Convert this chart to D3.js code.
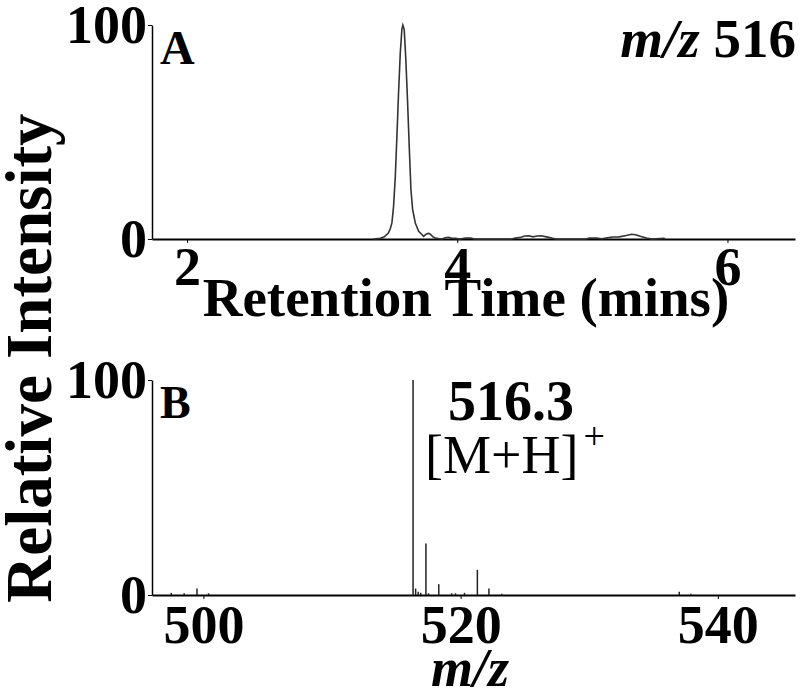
<!DOCTYPE html>
<head>
    <meta charset="utf-8">
    <script src="https://d3js.org/d3.v7.min.js"></script>
    <style>
        body { margin: 0; background: #fff; }
        svg { display: block; }
        text { font-family: "Liberation Serif", "Times New Roman", serif; fill: #000; }
    </style>
</head>
<body>
    <script>
        // panel A: extracted ion chromatogram (retention time in mins, relative intensity)
        const rtTime = [3.38, 3.43, 3.46, 3.49, 3.505, 3.516, 3.528, 3.541, 3.553, 3.565, 3.578, 3.59, 3.597,
            3.607, 3.619, 3.632, 3.645, 3.657, 3.669, 3.689, 3.714, 3.74, 3.751, 3.765, 3.775, 3.79, 3.80,
            3.82, 3.838, 3.86, 3.887, 3.91, 3.936, 3.96, 3.986, 4.02, 4.06, 4.10, 4.13, 4.25, 4.40, 4.43,
            4.47, 4.50, 4.53, 4.56, 4.59, 4.62, 4.66, 4.70, 4.73, 4.95, 4.98, 5.03, 5.07, 5.10, 5.15, 5.20,
            5.25, 5.29, 5.32, 5.36, 5.40, 5.44, 5.53, 5.54];
        const rtIntensity = [0, 0.3, 1.0, 2.8, 5, 7.5, 15, 29, 48, 68, 87, 98, 100,
            98, 84, 64, 42, 23, 14, 7.5, 3.6, 2.0, 1.2, 2.0, 2.5, 2.6, 2.3,
            1.0, 0.5, 0.2, 0, 0.6, 0.8, 0.3, 0.3, 0, 0.5, 0.4, 0, 0, 0, 0.4,
            0.8, 1.4, 1.5, 1.0, 1.4, 1.5, 1.0, 0.4, 0, 0, 0.4, 0.5, 0.1, 0.4, 0.9, 1.0,
            1.6, 2.2, 2.0, 1.2, 0.5, 0, 0.3, 0];
        const rtTicks = [2, 4, 6];

        // panel B: mass spectrum (m/z, relative intensity)
        const mzValues = [497.5, 498.5, 499.5, 500.4, 516.3, 516.5, 516.7, 516.9, 517.3, 517.5, 518.3,
            519.3, 519.6, 520.3, 521.3, 522.2, 523.2, 537.0, 537.9];
        const mzIntensity = [1, 0.8, 3, 0.8, 100, 3, 1.5, 1, 24, 0.8, 5,
            0.8, 0.8, 1, 11.7, 3, 0.6, 1.5, 0.6];
        const mzTicks = [500, 520, 540];
        const yTicks = [0, 100];

        const width = 800, height = 700;
        const svg = d3.select("body").append("svg")
            .attr("width", width)
            .attr("height", height);

        const left = 152, right = 795;

        const xA = d3.scaleLinear().domain([1.74, 6.5]).range([left, right]),
            yA = d3.scaleLinear().domain([0, 100]).range([239, 25]),
            xB = d3.scaleLinear().domain([496, 546]).range([left, right]),
            yB = d3.scaleLinear().domain([0, 100]).range([595, 380]);

        function drawAxes(x, y, ticks, pad) {
            const gx = svg.append("g")
                .attr("transform", `translate(0,${y(0)})`)
                .call(d3.axisBottom(x).tickValues(ticks).tickFormat(d3.format("d"))
                    .tickSize(4).tickPadding(pad).tickSizeOuter(0));
            gx.select(".domain").attr("stroke-width", 2.2);
            gx.selectAll("text")
                .attr("font-size", 54)
                .attr("font-weight", "bold")
                .attr("font-family", "Liberation Serif");

            const gy = svg.append("g")
                .attr("transform", `translate(${left},0)`)
                .call(d3.axisLeft(y).tickValues(yTicks).tickSize(4).tickPadding(1).tickSizeOuter(0));
            gy.select(".domain").attr("stroke-width", 1.5);
            gy.selectAll("text")
                .attr("font-size", 54)
                .attr("font-weight", "bold")
                .attr("font-family", "Liberation Serif");
        }

        drawAxes(xA, yA, rtTicks, 4);
        drawAxes(xB, yB, mzTicks, 6);

        // chromatogram trace
        const line = d3.line()
            .x((d, i) => xA(rtTime[i]))
            .y(d => yA(d));
        svg.append("path")
            .datum(rtIntensity)
            .attr("d", line)
            .attr("fill", "none")
            .attr("stroke", "#333")
            .attr("stroke-width", 1.6);

        // spectrum sticks
        svg.append("g")
            .selectAll("line")
            .data(mzValues)
            .join("line")
            .attr("x1", d => xB(d))
            .attr("x2", d => xB(d))
            .attr("y1", yB(0))
            .attr("y2", (d, i) => yB(mzIntensity[i]))
            .attr("stroke", "#222")
            .attr("stroke-width", 1.5);

        // labels
        svg.append("text").attr("x", 160).attr("y", 64)
            .attr("font-size", 48).attr("font-weight", "bold").text("A");
        svg.append("text").attr("x", 160).attr("y", 418)
            .attr("font-size", 46).attr("font-weight", "bold").text("B");

        const mzA = svg.append("text").attr("x", 796).attr("y", 57)
            .attr("text-anchor", "end").attr("font-size", 55).attr("font-weight", "bold");
        mzA.append("tspan").attr("font-style", "italic").text("m/z");
        mzA.append("tspan").text(" 516");

        svg.append("text").attr("x", 466).attr("y", 316)
            .attr("text-anchor", "middle").attr("font-size", 55).attr("font-weight", "bold")
            .text("Retention Time (mins)");

        svg.append("text").attr("x", 470).attr("y", 686)
            .attr("text-anchor", "middle").attr("font-size", 54).attr("font-weight", "bold")
            .attr("font-style", "italic").text("m/z");

        svg.append("text").attr("x", 511).attr("y", 420)
            .attr("text-anchor", "middle").attr("font-size", 56).attr("font-weight", "bold")
            .text("516.3");

        const ion = svg.append("text").attr("x", 425).attr("y", 473)
            .attr("font-size", 54);
        ion.append("tspan").text("[M+H]");
        ion.append("tspan").attr("font-size", 38).attr("dx", 5).attr("dy", -24).text("+");

        svg.append("text")
            .attr("transform", "translate(51,358) rotate(-90)")
            .attr("text-anchor", "middle").attr("font-size", 65).attr("font-weight", "bold")
            .text("Relative Intensity");
    </script>
</body>
